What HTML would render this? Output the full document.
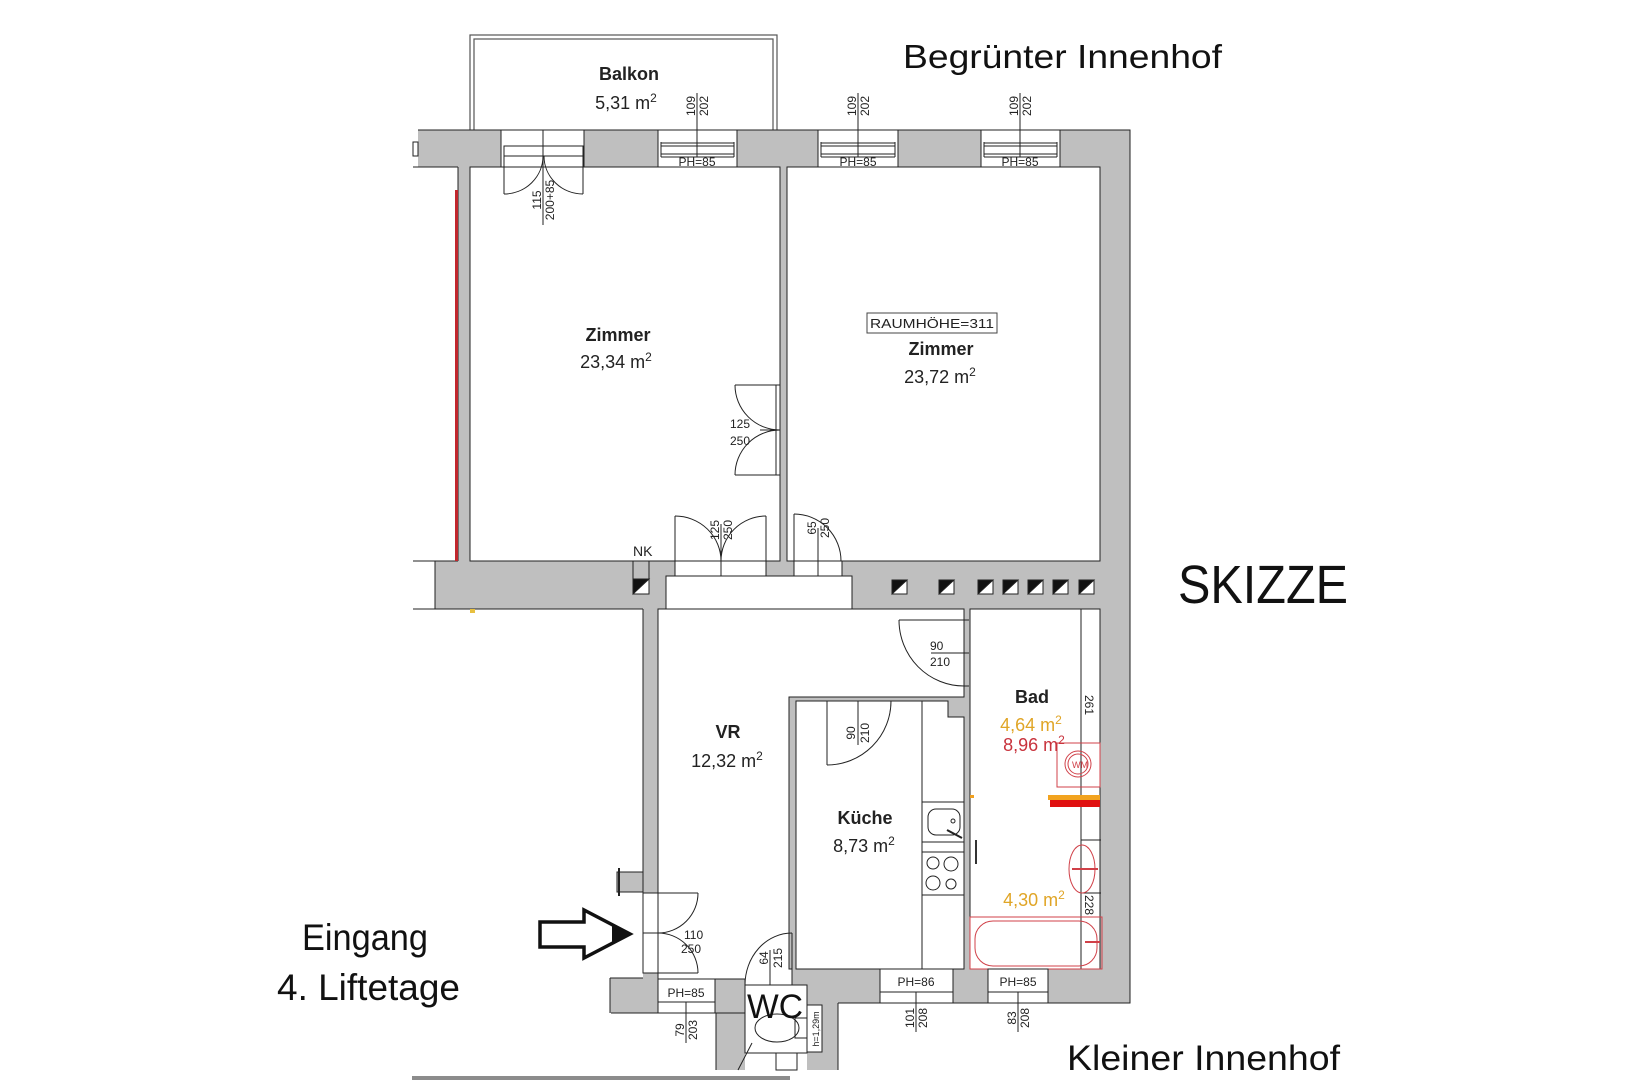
<!DOCTYPE html>
<html>
<head>
<meta charset="utf-8">
<style>
html,body{margin:0;padding:0;background:#fff;}
svg{display:block;}
text{font-family:"Liberation Sans",sans-serif;}
</style>
</head>
<body>
<svg width="1625" height="1080" viewBox="0 0 1625 1080" xmlns="http://www.w3.org/2000/svg">
<rect x="0" y="0" width="1625" height="1080" fill="#fff"/>

<!-- Balcony -->
<rect x="470" y="35" width="307" height="97" fill="#fff" stroke="#555" stroke-width="1.2"/>
<rect x="474" y="39" width="299" height="93" fill="#fff" stroke="#555" stroke-width="1.2"/>

<!-- ===== GRAY WALLS ===== -->
<g fill="#bfbfbf" stroke="none">
  <rect x="418" y="130" width="712" height="37"/>
  <rect x="458" y="167" width="12" height="394"/>
  <rect x="780" y="167" width="7" height="394"/>
  <rect x="1100" y="130" width="30" height="873"/>
  <rect x="435" y="561" width="665" height="48"/>
  <rect x="643" y="609" width="15" height="284"/>
  <rect x="617" y="872" width="26" height="20"/>
  <rect x="610" y="978" width="48" height="35"/>
  <rect x="643" y="973" width="15" height="6"/>
  <rect x="658" y="979" width="87" height="34"/>
  <rect x="716" y="979" width="29" height="91"/>
  <rect x="789" y="697" width="7" height="272"/>
  <rect x="789" y="697" width="175" height="4"/>
  <rect x="948" y="697" width="16" height="20"/>
  <rect x="964" y="609" width="6" height="360"/>
  <rect x="792" y="969" width="338" height="34"/>
  <rect x="807" y="1003" width="31" height="67"/>
</g>

<!-- outer wall lines -->
<g fill="none" stroke="#222" stroke-width="1">
  <polyline points="418,130 1130,130 1130,1003 953,1003"/>
  <line x1="413" y1="167" x2="458" y2="167"/>
  <line x1="458" y1="167" x2="458" y2="561"/>
  <line x1="413" y1="561" x2="458" y2="561"/>
  <line x1="413" y1="609" x2="643" y2="609"/>
  <line x1="435" y1="561" x2="435" y2="609"/>
  <line x1="643" y1="609" x2="643" y2="872"/>
  <line x1="611" y1="1013" x2="745" y2="1013"/>
  <line x1="610" y1="978" x2="610" y2="1013"/>
  <line x1="610" y1="978" x2="643" y2="978"/>
  <line x1="838" y1="1003" x2="838" y2="1070"/>
  <line x1="716" y1="1013" x2="716" y2="1070"/>
  <line x1="838" y1="1003" x2="880" y2="1003"/>
</g>
<!-- small tab left top -->
<rect x="413" y="142" width="5" height="14" fill="#fff" stroke="#222" stroke-width="1"/>
<!-- tab VR left -->
<rect x="617" y="872" width="26" height="20" fill="#bfbfbf" stroke="#222" stroke-width="1"/>
<line x1="619" y1="868" x2="619" y2="896" stroke="#222" stroke-width="2"/>

<!-- red line left -->
<rect x="455" y="190" width="3" height="371" fill="#c1272d"/>
<rect x="470" y="609" width="5" height="4" fill="#e8c040"/>

<!-- ===== ROOMS (white) ===== -->
<g fill="#fff" stroke="#222" stroke-width="1">
  <rect x="470" y="167" width="310" height="394"/>
  <rect x="787" y="167" width="313" height="394"/>
  <polygon points="658,609 964,609 964,697 789,697 789,969 792,969 792,985 745,985 745,979 658,979"/>
  <polygon points="796,701 948,701 948,717 964,717 964,969 796,969"/>
  <rect x="970" y="609" width="130" height="360"/>
  <rect x="745" y="985" width="62" height="68"/>
</g>

<!-- ===== TOP OPENINGS ===== -->
<g fill="#fff" stroke="#222" stroke-width="1">
  <rect x="501" y="130" width="83" height="37"/>
  <rect x="658" y="130" width="79" height="37"/>
  <rect x="818" y="130" width="80" height="37"/>
  <rect x="981" y="130" width="79" height="37"/>
</g>
<g stroke="#222" stroke-width="1" fill="none">
  <line x1="661" y1="143" x2="734" y2="143"/><line x1="661" y1="146" x2="734" y2="146"/>
  <line x1="661" y1="154" x2="734" y2="154"/><line x1="661" y1="157" x2="734" y2="157"/>
  <line x1="661" y1="142" x2="661" y2="157"/><line x1="734" y1="142" x2="734" y2="157"/>
  <line x1="697" y1="93" x2="697" y2="157"/>

  <line x1="821" y1="143" x2="895" y2="143"/><line x1="821" y1="146" x2="895" y2="146"/>
  <line x1="821" y1="154" x2="895" y2="154"/><line x1="821" y1="157" x2="895" y2="157"/>
  <line x1="821" y1="142" x2="821" y2="157"/><line x1="895" y1="142" x2="895" y2="157"/>
  <line x1="858" y1="93" x2="858" y2="157"/>

  <line x1="984" y1="143" x2="1057" y2="143"/><line x1="984" y1="146" x2="1057" y2="146"/>
  <line x1="984" y1="154" x2="1057" y2="154"/><line x1="984" y1="157" x2="1057" y2="157"/>
  <line x1="984" y1="142" x2="984" y2="157"/><line x1="1057" y1="142" x2="1057" y2="157"/>
  <line x1="1020" y1="93" x2="1020" y2="157"/>

  <rect x="504" y="146" width="79" height="10"/>
  <line x1="543" y1="130" x2="543" y2="225"/>
  <line x1="504" y1="156" x2="504" y2="194"/>
  <line x1="583" y1="156" x2="583" y2="194"/>
  <path d="M504,194 A39,38 0 0 0 543,156"/>
  <path d="M583,194 A39,38 0 0 1 544,156"/>
</g>
<g font-size="12" fill="#222">
  <text x="697" y="166" text-anchor="middle">PH=85</text>
  <text x="858" y="166" text-anchor="middle">PH=85</text>
  <text x="1020" y="166" text-anchor="middle">PH=85</text>
  <text transform="translate(695,106) rotate(-90)" text-anchor="middle">109</text>
  <text transform="translate(708,106) rotate(-90)" text-anchor="middle">202</text>
  <text transform="translate(856,106) rotate(-90)" text-anchor="middle">109</text>
  <text transform="translate(869,106) rotate(-90)" text-anchor="middle">202</text>
  <text transform="translate(1018,106) rotate(-90)" text-anchor="middle">109</text>
  <text transform="translate(1031,106) rotate(-90)" text-anchor="middle">202</text>
  <text transform="translate(541,200) rotate(-90)" text-anchor="middle">115</text>
  <text transform="translate(554,200) rotate(-90)" text-anchor="middle">200+85</text>
</g>

<!-- ===== Doors Zimmer1 right ===== -->
<g stroke="#222" stroke-width="1" fill="none">
  <line x1="735" y1="385" x2="780" y2="385"/>
  <line x1="735" y1="475" x2="780" y2="475"/>
  <line x1="776" y1="385" x2="776" y2="475"/>
  <line x1="760" y1="430" x2="780" y2="430"/>
  <path d="M735,385 A45,45 0 0 0 780,430"/>
  <path d="M735,475 A45,45 0 0 1 780,430"/>
</g>
<g font-size="12" fill="#222">
  <text x="730" y="428">125</text>
  <text x="730" y="445">250</text>
</g>

<!-- ===== Corridor opening & doors ===== -->
<rect x="666" y="576" width="186" height="33" fill="#fff" stroke="#222" stroke-width="1"/>
<g stroke="#222" stroke-width="1" fill="#fff">
  <rect x="675" y="561" width="91" height="15"/>
  <rect x="794" y="561" width="48" height="15"/>
</g>
<g stroke="#222" stroke-width="1" fill="none">
  <line x1="675" y1="576" x2="675" y2="516"/>
  <line x1="766" y1="576" x2="766" y2="516"/>
  <line x1="721" y1="576" x2="721" y2="524"/>
  <path d="M675,516 A46,45 0 0 1 721,561"/>
  <path d="M766,516 A45,45 0 0 0 721,561"/>
  <line x1="794" y1="576" x2="794" y2="514"/>
  <line x1="818" y1="576" x2="818" y2="528"/>
  <path d="M794,514 A47,47 0 0 1 841,561"/>
</g>
<g font-size="12" fill="#222">
  <text transform="translate(719,530) rotate(-90)" text-anchor="middle">125</text>
  <text transform="translate(732,530) rotate(-90)" text-anchor="middle">250</text>
  <text transform="translate(816,528) rotate(-90)" text-anchor="middle">65</text>
  <text transform="translate(829,528) rotate(-90)" text-anchor="middle">250</text>
</g>

<!-- NK shaft -->
<rect x="633" y="561" width="16" height="33" fill="#bfbfbf" stroke="#222" stroke-width="1"/>
<text x="633" y="556" font-size="14" fill="#222">NK</text>
<g stroke="#222" stroke-width="1">
  <rect x="633" y="579" width="16" height="15" fill="#fff"/>
  <polygon points="633,579 649,579 633,594" fill="#111"/>
  <rect x="892" y="580" width="15" height="14" fill="#fff"/><polygon points="892,580 907,580 892,594" fill="#111"/>
  <rect x="939" y="580" width="15" height="14" fill="#fff"/><polygon points="939,580 954,580 939,594" fill="#111"/>
  <rect x="978" y="580" width="15" height="14" fill="#fff"/><polygon points="978,580 993,580 978,594" fill="#111"/>
  <rect x="1003" y="580" width="15" height="14" fill="#fff"/><polygon points="1003,580 1018,580 1003,594" fill="#111"/>
  <rect x="1028" y="580" width="15" height="14" fill="#fff"/><polygon points="1028,580 1043,580 1028,594" fill="#111"/>
  <rect x="1053" y="580" width="15" height="14" fill="#fff"/><polygon points="1053,580 1068,580 1053,594" fill="#111"/>
  <rect x="1079" y="580" width="15" height="14" fill="#fff"/><polygon points="1079,580 1094,580 1079,594" fill="#111"/>
</g>

<!-- Bad door -->
<g stroke="#222" stroke-width="1" fill="none">
  <line x1="899" y1="620" x2="969" y2="620"/>
  <line x1="964" y1="620" x2="964" y2="686"/>
  <line x1="931" y1="653" x2="969" y2="653"/>
  <path d="M899,620 A65,66 0 0 0 964,686"/>
  <line x1="964" y1="686" x2="969" y2="686"/>
</g>
<g font-size="12" fill="#222">
  <text x="930" y="650">90</text>
  <text x="930" y="666">210</text>
</g>

<!-- Küche door -->
<g stroke="#222" stroke-width="1" fill="none">
  <line x1="827" y1="701" x2="827" y2="765"/>
  <line x1="858" y1="701" x2="858" y2="745"/>
  <path d="M827,765 A64,64 0 0 0 891,701"/>
</g>
<g font-size="12" fill="#222">
  <text transform="translate(855,733) rotate(-90)" text-anchor="middle">90</text>
  <text transform="translate(869,733) rotate(-90)" text-anchor="middle">210</text>
</g>

<!-- Küche counter -->
<g stroke="#222" stroke-width="1" fill="none">
  <line x1="922" y1="701" x2="922" y2="969"/>
  <rect x="922" y="802" width="42" height="40"/>
  <rect x="928" y="809" width="32" height="26" rx="8"/>
  <circle cx="953" cy="821" r="2"/>
  <line x1="947" y1="830" x2="962" y2="838" stroke-width="2"/>
  <rect x="922" y="852" width="42" height="43"/>
  <circle cx="933" cy="863" r="6"/>
  <circle cx="951" cy="864" r="7"/>
  <circle cx="933" cy="883" r="7"/>
  <circle cx="951" cy="884" r="5"/>
</g>
<line x1="976" y1="840" x2="976" y2="864" stroke="#333" stroke-width="2"/>
<rect x="970" y="795" width="4" height="3" fill="#f0a020"/>

<!-- Bad fixtures -->
<g stroke="#222" stroke-width="1" fill="none">
  <line x1="1081" y1="609" x2="1081" y2="969"/>
  <line x1="1081" y1="840" x2="1101" y2="840"/>
  <line x1="1081" y1="893" x2="1101" y2="893"/>
</g>
<g font-size="12" fill="#222">
  <text transform="translate(1085,705) rotate(90)" text-anchor="middle">261</text>
  <text transform="translate(1085,905) rotate(90)" text-anchor="middle">228</text>
</g>
<g stroke="#d04048" stroke-width="1" fill="none">
  <rect x="1057" y="743" width="43" height="44"/>
  <circle cx="1078" cy="764" r="13"/>
  <circle cx="1078" cy="764" r="10"/>
  <ellipse cx="1082" cy="869" rx="13" ry="24"/>
  <rect x="970" y="917" width="132" height="52"/>
  <rect x="975" y="921" width="122" height="45" rx="18"/>
  <line x1="1072" y1="869" x2="1098" y2="869" stroke-width="2"/>
  <line x1="1085" y1="942" x2="1100" y2="942" stroke-width="2"/>
</g>
<text x="1072" y="768" font-size="9" fill="#d04048">WM</text>
<rect x="1048" y="795" width="52" height="5" fill="#f2a31f"/>
<rect x="1050" y="800" width="50" height="7" fill="#e01010"/>

<!-- ===== Eingang door ===== -->
<rect x="643" y="893" width="15" height="80" fill="#fff" stroke="#222" stroke-width="1"/>
<g stroke="#222" stroke-width="1" fill="none">
  <line x1="643" y1="933" x2="658" y2="933"/>
  <line x1="658" y1="893" x2="698" y2="893"/>
  <line x1="658" y1="973" x2="698" y2="973"/>
  <path d="M698,893 A40,40 0 0 1 658,933"/>
  <path d="M698,973 A40,40 0 0 0 658,933"/>
</g>
<g font-size="12" fill="#222">
  <text x="684" y="939">110</text>
  <text x="681" y="953">250</text>
</g>

<!-- bottom-left window -->
<rect x="658" y="979" width="57" height="34" fill="#fff" stroke="#222" stroke-width="1"/>
<line x1="658" y1="1002" x2="715" y2="1002" stroke="#222"/>
<line x1="686" y1="1002" x2="686" y2="1043" stroke="#222"/>
<text x="686" y="997" font-size="12" fill="#222" text-anchor="middle">PH=85</text>
<g font-size="12" fill="#222">
  <text transform="translate(684,1030) rotate(-90)" text-anchor="middle">79</text>
  <text transform="translate(697,1030) rotate(-90)" text-anchor="middle">203</text>
</g>

<!-- bottom windows -->
<g fill="#fff" stroke="#222" stroke-width="1">
  <rect x="880" y="969" width="73" height="34"/>
  <rect x="988" y="969" width="60" height="34"/>
</g>
<g stroke="#222" stroke-width="1">
  <line x1="880" y1="992" x2="953" y2="992"/>
  <line x1="916" y1="992" x2="916" y2="1032"/>
  <line x1="988" y1="992" x2="1048" y2="992"/>
  <line x1="1018" y1="992" x2="1018" y2="1032"/>
</g>
<g font-size="12" fill="#222">
  <text x="916" y="986" text-anchor="middle">PH=86</text>
  <text x="1018" y="986" text-anchor="middle">PH=85</text>
  <text transform="translate(914,1018) rotate(-90)" text-anchor="middle">101</text>
  <text transform="translate(927,1018) rotate(-90)" text-anchor="middle">208</text>
  <text transform="translate(1016,1018) rotate(-90)" text-anchor="middle">83</text>
  <text transform="translate(1029,1018) rotate(-90)" text-anchor="middle">208</text>
</g>

<!-- WC -->
<g stroke="#222" stroke-width="1" fill="none">
  <line x1="792" y1="933" x2="792" y2="985"/>
  <line x1="770" y1="950" x2="770" y2="985"/>
  <path d="M745,985 A47,52 0 0 1 792,933"/>
  <ellipse cx="777" cy="1028" rx="22" ry="14"/>
  <rect x="795" y="1018" width="12" height="20"/>
  <rect x="807" y="1005" width="15" height="47" fill="#fff"/>
  <rect x="776" y="1053" width="21" height="17" fill="#fff"/>
  <line x1="752" y1="1043" x2="738" y2="1070"/>
</g>
<g font-size="12" fill="#222">
  <text transform="translate(768,958) rotate(-90)" text-anchor="middle">64</text>
  <text transform="translate(782,958) rotate(-90)" text-anchor="middle">215</text>
  <text transform="translate(819,1029) rotate(-90)" text-anchor="middle" font-size="9">h=1,29m</text>
</g>
<text x="747" y="1018" font-size="34" fill="#111" textLength="56" lengthAdjust="spacingAndGlyphs">WC</text>

<!-- bottom gray bar -->
<rect x="412" y="1076" width="378" height="4" fill="#8c8c8c"/>

<!-- arrow -->
<polygon points="540,922 584,922 584,910 630,934 584,958 584,947 540,947" fill="#fff" stroke="#111" stroke-width="3.5" stroke-linejoin="miter"/>
<polygon points="612,923 632,934 612,945" fill="#111"/>

<!-- ===== Room labels ===== -->
<g fill="#222" text-anchor="middle">
  <text x="629" y="80" font-size="18" font-weight="bold">Balkon</text>
  <text x="626" y="109" font-size="18">5,31 m<tspan font-size="12" dy="-7">2</tspan></text>

  <text x="618" y="341" font-size="18" font-weight="bold">Zimmer</text>
  <text x="616" y="368" font-size="18">23,34 m<tspan font-size="12" dy="-7">2</tspan></text>

  <text x="941" y="355" font-size="18" font-weight="bold">Zimmer</text>
  <text x="940" y="383" font-size="18">23,72 m<tspan font-size="12" dy="-7">2</tspan></text>

  <text x="728" y="738" font-size="18" font-weight="bold">VR</text>
  <text x="727" y="767" font-size="18">12,32 m<tspan font-size="12" dy="-7">2</tspan></text>

  <text x="865" y="824" font-size="18" font-weight="bold">Küche</text>
  <text x="864" y="852" font-size="18">8,73 m<tspan font-size="12" dy="-7">2</tspan></text>

  <text x="1032" y="703" font-size="18" font-weight="bold">Bad</text>
  <text x="1031" y="731" font-size="18" fill="#e0a526">4,64 m<tspan font-size="12" dy="-7">2</tspan></text>
  <text x="1034" y="751" font-size="18" fill="#c8323c">8,96 m<tspan font-size="12" dy="-7">2</tspan></text>
  <text x="1034" y="906" font-size="18" fill="#e0a526">4,30 m<tspan font-size="12" dy="-7">2</tspan></text>
</g>
<rect x="867" y="313" width="130" height="20" fill="#fff" stroke="#444" stroke-width="1"/>
<text x="870" y="328" font-size="13" fill="#222" textLength="124" lengthAdjust="spacingAndGlyphs">RAUMHÖHE=311</text>

<!-- ===== Big labels ===== -->
<g fill="#111">
  <text x="903" y="68" font-size="33" textLength="319" lengthAdjust="spacingAndGlyphs">Begrünter Innenhof</text>
  <text x="1178" y="603" font-size="54" textLength="170" lengthAdjust="spacingAndGlyphs">SKIZZE</text>
  <text x="1067" y="1070" font-size="35" textLength="273" lengthAdjust="spacingAndGlyphs">Kleiner Innenhof</text>
  <text x="302" y="950" font-size="37" textLength="126" lengthAdjust="spacingAndGlyphs">Eingang</text>
  <text x="277" y="1000" font-size="37" textLength="183" lengthAdjust="spacingAndGlyphs">4. Liftetage</text>
</g>
</svg>
</body>
</html>
